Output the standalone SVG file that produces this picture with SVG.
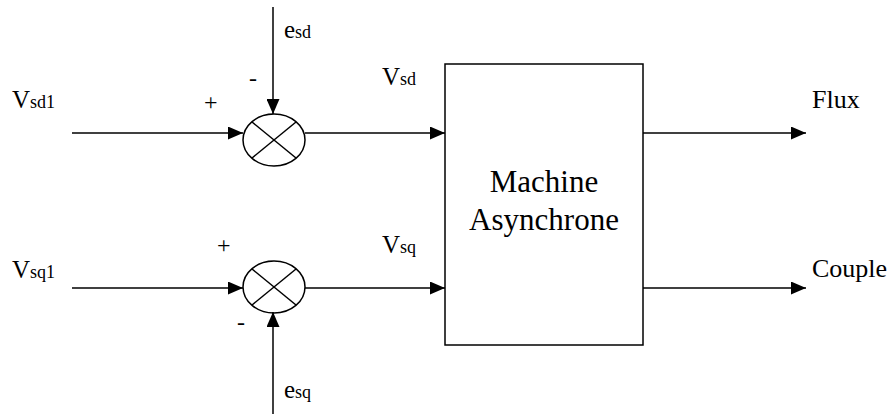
<svg xmlns="http://www.w3.org/2000/svg" width="890" height="414" viewBox="0 0 890 414" font-family="Liberation Serif, Times New Roman, DejaVu Serif, serif">
<style>
.ln{stroke:#000;stroke-width:1.5;fill:none}
text{fill:#000}
.m{font-size:25px}
.s{font-size:18px}
.p{font-size:24px}
</style>
<defs>
<marker id="ah" markerWidth="15" markerHeight="13" refX="15" refY="6.5" orient="auto" markerUnits="userSpaceOnUse">
<path d="M0,0 L15,6.5 L0,13 Z" fill="#000"/>
</marker>
</defs>
<rect width="890" height="414" fill="#fff"/>
<g id="sum1">
<ellipse cx="274" cy="140" rx="31" ry="26" class="ln"/>
<line x1="252" y1="122" x2="296" y2="158" class="ln"/>
<line x1="252" y1="158" x2="296" y2="122" class="ln"/>
</g>
<g id="sum2">
<ellipse cx="274" cy="287" rx="31" ry="26" class="ln"/>
<line x1="252" y1="269" x2="296" y2="305" class="ln"/>
<line x1="252" y1="305" x2="296" y2="269" class="ln"/>
</g>
<g id="machine">
<rect x="445" y="64" width="198" height="281" class="ln"/>
<text x="544" y="192" text-anchor="middle" font-size="31">Machine</text>
<text x="544" y="230" text-anchor="middle" font-size="31">Asynchrone</text>
</g>
<g id="connectors">
<line x1="72" y1="133" x2="243" y2="133" class="ln" marker-end="url(#ah)"/>
<line x1="273" y1="7" x2="273" y2="114" class="ln" marker-end="url(#ah)"/>
<line x1="305" y1="133" x2="445" y2="133" class="ln" marker-end="url(#ah)"/>
<line x1="72" y1="288" x2="243" y2="288" class="ln" marker-end="url(#ah)"/>
<line x1="273" y1="414" x2="273" y2="312" class="ln" marker-end="url(#ah)"/>
<line x1="305" y1="288" x2="445" y2="288" class="ln" marker-end="url(#ah)"/>
<line x1="643" y1="133" x2="806" y2="133" class="ln" marker-end="url(#ah)"/>
<line x1="643" y1="288" x2="806" y2="288" class="ln" marker-end="url(#ah)"/>
</g>
<g id="labels">
<text x="12" y="108" class="m">V<tspan class="s">sd1</tspan></text>
<text x="284" y="38" class="m">e<tspan class="s">sd</tspan></text>
<text x="204" y="110" class="p">+</text>
<text x="249" y="86" class="p">-</text>
<text x="382" y="85" class="m">V<tspan class="s">sd</tspan></text>
<text x="12" y="278" class="m">V<tspan class="s">sq1</tspan></text>
<text x="217" y="253" class="p">+</text>
<text x="237" y="330" class="p">-</text>
<text x="382" y="253" class="m">V<tspan class="s">sq</tspan></text>
<text x="284" y="398" class="m">e<tspan class="s">sq</tspan></text>
<text x="812" y="108" font-size="26">Flux</text>
<text x="812" y="277" font-size="26">Couple</text>
</g>
</svg>
